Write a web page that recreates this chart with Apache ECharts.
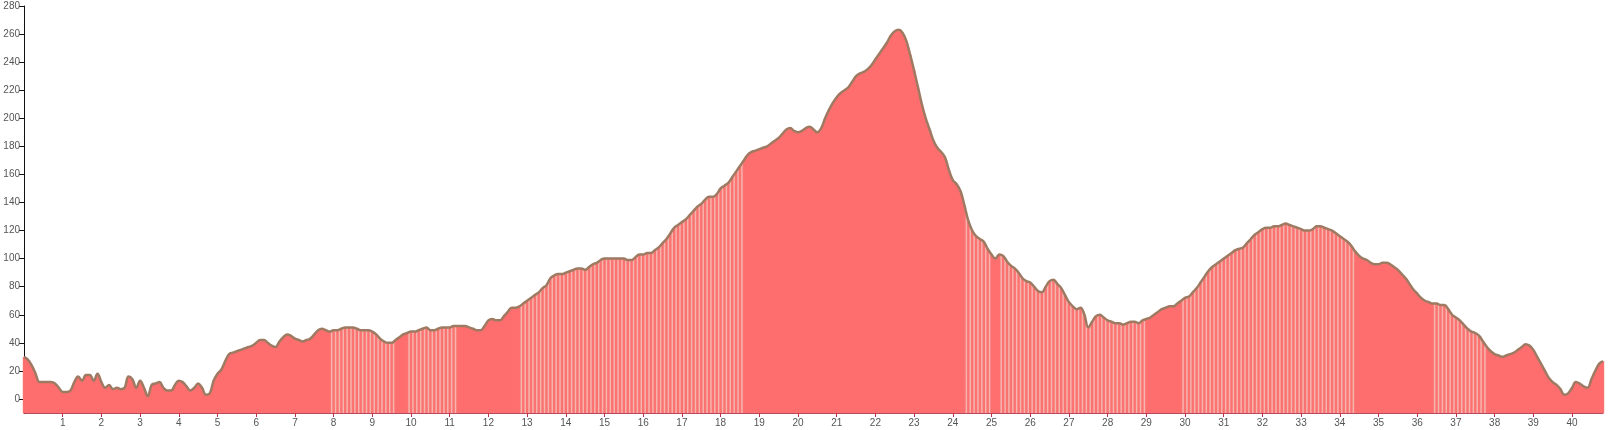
<!DOCTYPE html>
<html>
<head>
<meta charset="utf-8">
<script src="https://cdn.jsdelivr.net/npm/echarts@6/dist/echarts.min.js"></script>
<style>
html,body{margin:0;padding:0;background:#fff;}
#chart{width:1611px;height:430px;}
</style>
</head>
<body>
<div id="chart"></div>
<script>
// Elevation (m) sampled every 0.1 km, rows of 1 km
const elevation = [
  30, 28, 24, 18, 12, 12, 12, 12, 11, 8,
  5, 5, 6, 12, 16, 13, 17, 17, 13, 18,
  12, 8, 10, 7, 8, 7, 8, 16, 14, 8,
  13, 8, 2, 10, 11, 12, 8, 6, 6, 10,
  13, 12, 9, 6, 8, 11, 8, 3, 4, 13,
  18, 21, 27, 32, 33, 34, 35, 36, 37, 38,
  40, 42, 42, 40, 38, 37, 41, 44, 46, 45,
  43, 42, 41, 42, 43, 46, 49, 50, 49, 48,
  49, 49, 50, 51, 51, 51, 50, 49, 49, 49,
  48, 46, 43, 41, 40, 40, 42, 44, 46, 47,
  48, 48, 49, 50, 51, 49, 49, 50, 51, 51,
  51, 52, 52, 52, 52, 51, 50, 49, 49, 52,
  56, 57, 56, 56, 59, 62, 65, 65, 66, 68,
  70, 72, 74, 76, 79, 81, 86, 88, 89, 89,
  90, 91, 92, 93, 93, 92, 94, 96, 97, 99,
  100, 100, 100, 100, 100, 100, 99, 99, 101, 103,
  103, 104, 104, 106, 108, 111, 114, 118, 122, 124,
  126, 128, 131, 134, 137, 139, 142, 144, 144, 146,
  150, 152, 154, 158, 162, 166, 170, 174, 176, 177,
  178, 179, 180, 182, 184, 186, 189, 192, 193, 191,
  190, 191, 193, 194, 192, 190, 193, 200, 206, 211,
  215, 218, 220, 222, 226, 230, 232, 233, 235, 238,
  242, 246, 250, 254, 259, 262, 263, 261, 255, 245,
  234, 222, 210, 200, 192, 184, 179, 176, 172, 163,
  156, 153, 148, 138, 127, 120, 116, 114, 112, 107,
  103, 100, 103, 102, 98, 95, 93, 90, 86, 84,
  83, 80, 77, 76, 80, 84, 85, 82, 79, 74,
  69, 66, 64, 65, 60, 51, 55, 59, 60, 58,
  56, 55, 54, 54, 53, 54, 55, 55, 54, 56,
  57, 58, 60, 62, 64, 65, 66, 66, 68, 70,
  72, 73, 76, 79, 83, 87, 91, 94, 96, 98,
  100, 102, 104, 106, 107, 108, 111, 114, 117, 119,
  121, 122, 122, 123, 123, 124, 125, 124, 123, 122,
  121, 120, 120, 121, 123, 123, 122, 121, 120, 118,
  116, 114, 112, 109, 105, 102, 100, 99, 97, 96,
  96, 97, 97, 96, 94, 92, 89, 86, 82, 78,
  75, 72, 70, 69, 68, 68, 67, 67, 64, 60,
  58, 56, 53, 50, 48, 47, 45, 41, 37, 34,
  32, 31, 30, 31, 32, 33, 35, 37, 39, 38,
  35, 30, 25, 20, 15, 12, 10, 7, 3, 4,
  8, 12, 11, 9, 8, 14, 20, 25, 27
];
const stepKm = 0.1;
const distances = elevation.map((_, i) => Math.round(i * stepKm * 10) / 10);

// Distance ranges (km) where the profile is drawn as a solid fill
const solidRanges = [[0, 7.9], [9.6, 9.9], [11.2, 12.8], [18.6, 24.3], [25.0, 25.2], [29.0, 29.9], [34.4, 36.4], [37.8, 40.8]];

const yTicks = { min: -10, max: 280 };

const points = distances.map((d, i) => [d, elevation[i]]);
const solidPoints = distances.map((d, i) => {
  const inSolid = solidRanges.some(r => d >= r[0] - 1e-9 && d <= r[1] + 1e-9);
  return [d, inSolid ? elevation[i] : '-'];
});

const chart = echarts.init(document.getElementById('chart'), null, { renderer: 'canvas' });
const SMOOTH = 0.4;
chart.setOption({
  animation: false,
  backgroundColor: '#ffffff',
  grid: { left: 24, right: 8, top: 6, bottom: 17, containLabel: false },
  xAxis: {
    type: 'value',
    min: 0,
    max: 40.8,
    interval: 1,
    axisLine: { onZero: false, lineStyle: { color: '#9e0f30', width: 1.5 } },
    axisTick: { show: true, length: 4, lineStyle: { color: '#c0304a' } },
    axisLabel: { showMinLabel: false, showMaxLabel: false, color: '#555', fontSize: 10, margin: 5, fontFamily: 'Liberation Sans, Arial, sans-serif' },
    splitLine: { show: false }
  },
  yAxis: {
    type: 'value',
    min: yTicks.min,
    max: yTicks.max,
    splitNumber: 14,
    startValue: yTicks.min,
    axisLine: { show: true, lineStyle: { color: '#111', width: 1 } },
    axisTick: { show: true, length: 5, lineStyle: { color: '#111' } },
    axisLabel: { showMinLabel: false, color: '#555', fontSize: 10, margin: 4, fontFamily: 'Liberation Sans, Arial, sans-serif' },
    splitLine: { show: false }
  },
  series: [
    {
      type: 'line', data: points, smooth: SMOOTH, symbol: 'none', z: 1,
      lineStyle: { width: 0 },
      areaStyle: { color: '#f6b4ae', opacity: 1, origin: 'start' }
    },
    {
      type: 'bar', data: points, barWidth: 2.4, z: 2,
      itemStyle: { color: '#fb7371' }
    },
    {
      type: 'line', data: solidPoints, smooth: SMOOTH, symbol: 'none', z: 3, connectNulls: false,
      lineStyle: { width: 0 },
      areaStyle: { color: '#ff6e6e', opacity: 1, origin: 'start' }
    },
    {
      type: 'line', data: points, smooth: SMOOTH, symbol: 'none', z: 4,
      lineStyle: { color: '#9e7a62', width: 2.5 },
      markArea: {
        silent: true,
        itemStyle: { color: 'rgba(120,110,80,0.2)' },
        data: [[{ yAxis: yTicks.min }, { yAxis: 0 }]]
      }
    }
  ]
});
</script>
</body>
</html>
